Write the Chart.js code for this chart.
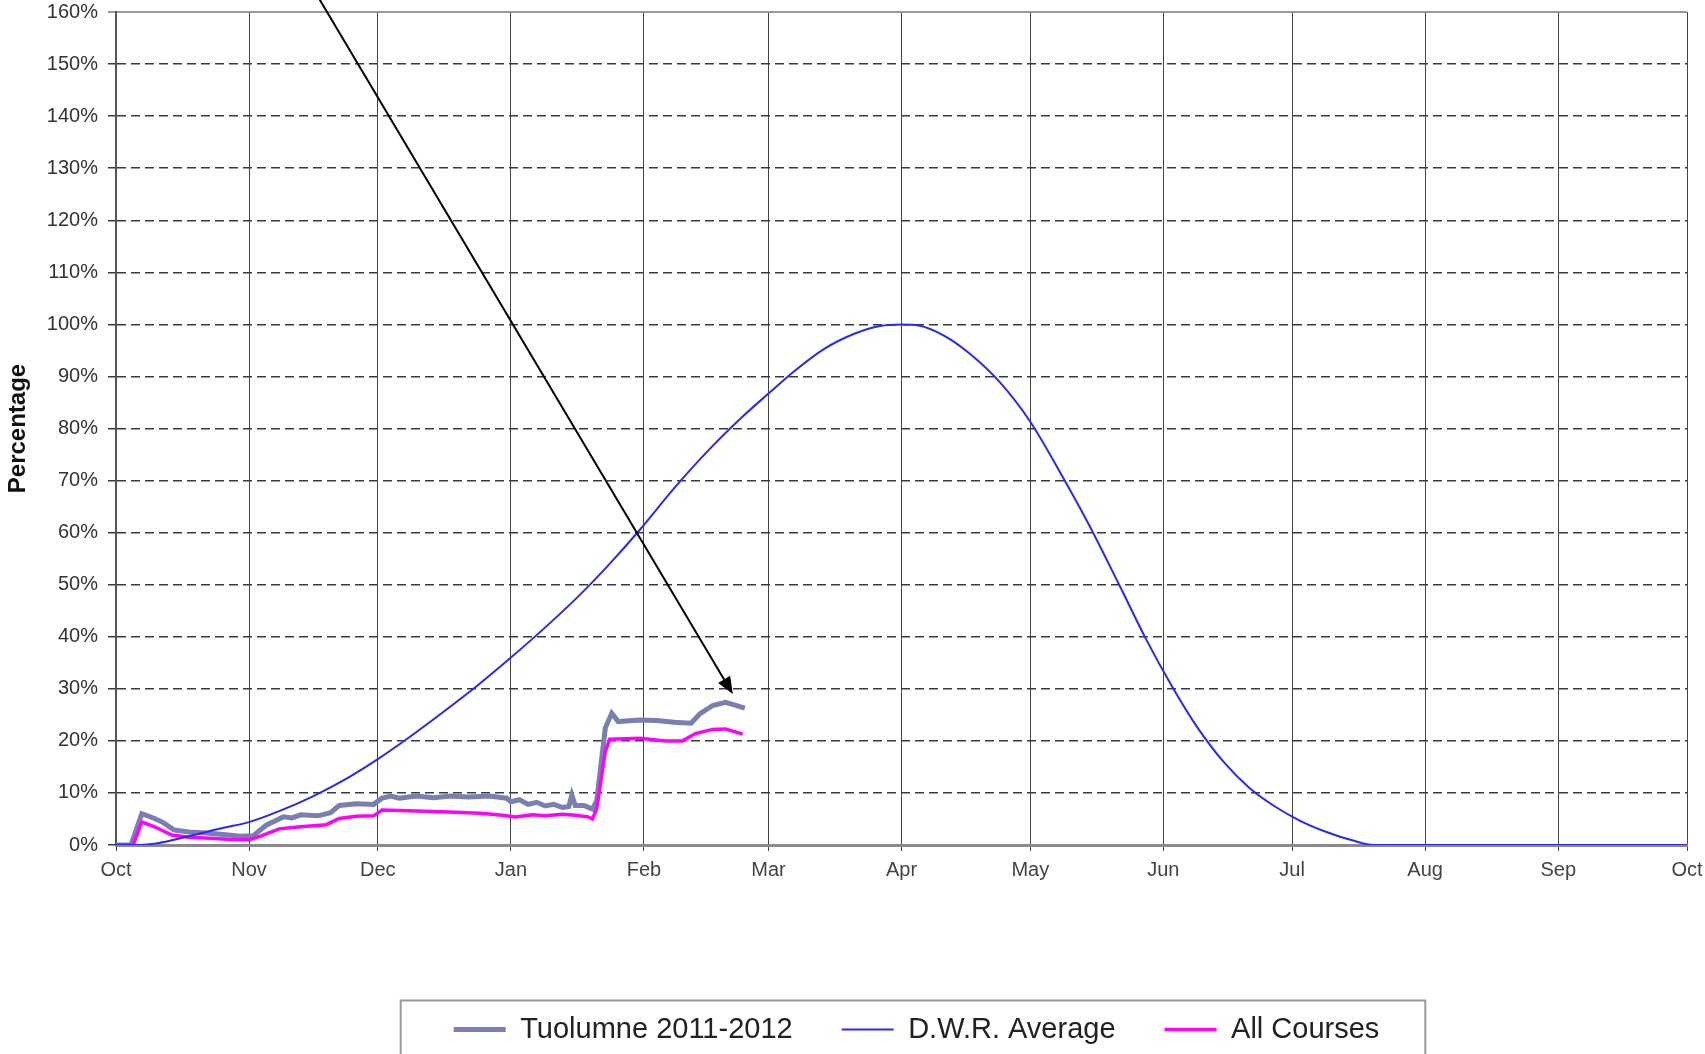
<!DOCTYPE html>
<html>
<head>
<meta charset="utf-8">
<title>Tuolumne 2011-2012 snowpack</title>
<script src="https://cdn.jsdelivr.net/npm/chart.js@4.4.1/dist/chart.umd.min.js"></script>
<style>
    html, body { margin: 0; padding: 0; background: #fff; }
    #wrap { width: 1705px; height: 1054px; }
</style>
</head>
<body>
<div id="wrap"><canvas id="snowChart" width="1705" height="1054"></canvas></div>
<script>
// x values are days counted from Oct 1 (water year 2011-2012, leap Feb)
const monthLabels = ['Oct', 'Nov', 'Dec', 'Jan', 'Feb', 'Mar', 'Apr', 'May', 'Jun', 'Jul', 'Aug', 'Sep', 'Oct'];
const monthStarts = [0, 31, 61, 92, 123, 152, 183, 213, 244, 274, 305, 336, 366];
const percentTicks = [0, 10, 20, 30, 40, 50, 60, 70, 80, 90, 100, 110, 120, 130, 140, 150, 160];

const tuolumneDays = [0, 3.5, 6, 9, 11, 13.5, 17, 21, 25, 29, 32, 35, 37, 39, 41, 43, 47, 50, 52, 56, 60, 62,
    64, 66, 70, 74, 78, 82, 87, 91, 92, 94, 96, 98, 100, 102, 104, 105.5, 106.2, 107, 109, 111, 112, 114,
    115.5, 117, 122, 126, 130, 134, 136, 139, 142, 144, 146.5];
const tuolumneValues = [0, 0, 6.0, 5.1, 4.3, 2.9, 2.5, 2.3, 2.0, 1.7, 1.8, 3.8, 4.6, 5.4, 5.2, 5.8, 5.6, 6.2, 7.6, 7.9, 7.8, 9.0,
    9.4, 9.0, 9.4, 9.1, 9.4, 9.2, 9.4, 9.0, 8.3, 8.7, 7.8, 8.2, 7.5, 7.8, 7.2, 7.4, 9.6, 7.6, 7.6, 6.9, 8.5, 22.5,
    25.3, 23.7, 24.0, 23.9, 23.6, 23.4, 25.2, 26.8, 27.4, 26.9, 26.3];

const dwrDays = [0, 5, 10, 15, 20, 25, 31, 38, 46, 54, 61, 68, 76, 84, 92, 100, 108, 115, 122,
    130, 138, 146, 152, 158, 165, 172, 178, 183, 187, 193, 199, 206, 213, 220, 227, 234, 240, 246,
    252, 258, 264, 270, 276, 282, 288, 293, 305, 336, 366];
const dwrValues = [0, 0, 0.4, 1.3, 2.3, 3.3, 4.4, 6.5, 9.4, 12.9, 16.5, 20.5, 25.4, 30.5, 36.0, 41.8, 48.0, 54.0, 60.5,
    68.5, 75.8, 82.3, 86.7, 91.0, 95.3, 98.2, 99.7, 100, 99.8, 97.8, 94.3, 88.8, 81.3, 71.5, 61.0, 49.5, 39.5, 30.5,
    22.5, 16.0, 11.0, 7.4, 4.6, 2.5, 0.9, 0, 0, 0, 0];

const allCoursesDays = [0, 4, 6, 9, 13, 17, 22, 26, 31, 34, 38, 43, 49, 52, 56, 60, 62, 68, 76, 85,
    90, 93, 97, 100, 104, 107, 110, 111, 112, 114, 115, 122, 128, 132, 135, 139, 142, 146];
const allCoursesValues = [0, 0, 4.4, 3.5, 1.9, 1.5, 1.3, 1.1, 1.0, 1.8, 3.1, 3.5, 3.9, 5.1, 5.5, 5.6, 6.7, 6.6, 6.4, 6.1,
    5.7, 5.4, 5.8, 5.6, 5.9, 5.7, 5.4, 5.0, 7.0, 18.0, 20.3, 20.5, 20.0, 20.0, 21.4, 22.2, 22.3, 21.3];

// annotation arrow, in (day, percent)
const arrowFrom = [47, 163];
const arrowTo = [143.7, 29.0];

const LEGEND_FONT = 29;
const LEGEND_PADDING = 49;
const PLOT_BOTTOM = 845;

function toPoints(days, values) {
    return days.map((d, i) => ({ x: d, y: values[i] }));
}

const arrowPlugin = {
    id: 'arrow',
    afterDatasetsDraw(chart) {
        const xs = chart.scales.x;
        const ys = chart.scales.y;
        const x1 = xs.getPixelForValue(arrowFrom[0]);
        const y1 = ys.getPixelForValue(arrowFrom[1]);
        const x2 = xs.getPixelForValue(arrowTo[0]);
        const y2 = ys.getPixelForValue(arrowTo[1]);
        const ang = Math.atan2(y2 - y1, x2 - x1);
        const head = 17;
        const half = 7;
        const cos = Math.cos(ang), sin = Math.sin(ang);
        const ctx = chart.ctx;
        ctx.save();
        ctx.strokeStyle = '#000';
        ctx.fillStyle = '#000';
        ctx.lineWidth = 2;
        ctx.beginPath();
        ctx.moveTo(x1, y1);
        ctx.lineTo(x2 - head * cos, y2 - head * sin);
        ctx.stroke();
        ctx.beginPath();
        ctx.moveTo(x2, y2);
        ctx.lineTo(x2 - head * cos + half * sin, y2 - head * sin - half * cos);
        ctx.lineTo(x2 - head * cos - half * sin, y2 - head * sin + half * cos);
        ctx.closePath();
        ctx.fill();
        ctx.restore();
    }
};

// grey frame round the legend, like the original spreadsheet legend box
const legendFramePlugin = {
    id: 'legendFrame',
    afterLayout(chart) {
        // the original legend sits a little right of the plot centre
        if (chart.legend) {
            chart.legend.left += 15;
            chart.legend.right += 15;
        }
    },
    afterDraw(chart) {
        const boxes = chart.legend && chart.legend.legendHitBoxes;
        if (!boxes || !boxes.length) return;
        const left = Math.min(...boxes.map(b => b.left)) - 53;
        const right = Math.max(...boxes.map(b => b.left + b.width)) + 46;
        const mid = boxes[0].top + boxes[0].height / 2;
        const ctx = chart.ctx;
        ctx.save();
        ctx.strokeStyle = '#9a9a9a';
        ctx.lineWidth = 2;
        ctx.strokeRect(left, mid - 29, right - left, chart.height);
        ctx.restore();
    }
};

Chart.defaults.font.family = '"Liberation Sans", Arial, sans-serif';

const canvas = document.getElementById('snowChart');
const chart = new Chart(canvas, {
    type: 'line',
    data: {
        datasets: [
            {
                label: 'Tuolumne 2011-2012',
                data: toPoints(tuolumneDays, tuolumneValues),
                borderColor: 'rgb(122, 126, 176)',
                backgroundColor: 'rgb(122, 126, 176)',
                borderWidth: 5,
                pointRadius: 0,
                tension: 0,
                order: 3
            },
            {
                label: 'D.W.R. Average',
                data: toPoints(dwrDays, dwrValues),
                borderColor: 'rgb(40, 40, 255)',
                backgroundColor: 'rgb(40, 40, 255)',
                borderWidth: 2,
                pointRadius: 0,
                cubicInterpolationMode: 'monotone',
                order: 1
            },
            {
                label: 'All Courses',
                data: toPoints(allCoursesDays, allCoursesValues),
                borderColor: 'rgb(255, 0, 255)',
                backgroundColor: 'rgb(255, 0, 255)',
                borderWidth: 3.5,
                pointRadius: 0,
                tension: 0,
                order: 2
            }
        ]
    },
    options: {
        responsive: false,
        animation: false,
        layout: {
            autoPadding: false,
            padding: { top: 12, right: 18, bottom: 0, left: 0 }
        },
        plugins: {
            tooltip: { enabled: false },
            legend: {
                position: 'bottom',
                fullSize: false,
                labels: {
                    usePointStyle: true,
                    pointStyle: 'line',
                    pointStyleWidth: 52,
                    padding: LEGEND_PADDING,
                    color: '#222',
                    font: { size: LEGEND_FONT },
                    sort: (a, b) => a.datasetIndex - b.datasetIndex
                }
            }
        },
        scales: {
            x: {
                type: 'linear',
                min: 0,
                max: 366,
                afterBuildTicks: (axis) => {
                    axis.ticks = monthStarts.map(v => ({ value: v }));
                },
                afterFit: (axis) => {
                    axis.height = 1054 - PLOT_BOTTOM - (LEGEND_FONT + LEGEND_PADDING + 10);
                    // let the last "Oct" run off the edge like the original
                    axis.paddingLeft = 0;
                    axis.paddingRight = 0;
                },
                ticks: {
                    autoSkip: false,
                    maxRotation: 0,
                    padding: 7,
                    color: '#444',
                    font: { size: 20 },
                    callback: (value, index) => monthLabels[index]
                },
                grid: { color: '#444', lineWidth: 1, tickLength: 6 },
                border: { color: '#8a8a8a', width: 3 }
            },
            y: {
                min: 0,
                max: 160,
                afterBuildTicks: (axis) => {
                    axis.ticks = percentTicks.map(v => ({ value: v }));
                },
                afterFit: (axis) => {
                    axis.width = 116;
                    axis.paddingTop = 0;
                    axis.paddingBottom = 0;
                },
                ticks: {
                    padding: 10,
                    color: '#333',
                    font: { size: 20 },
                    callback: (value) => value + '%'
                },
                grid: {
                    color: (ctx) => (ctx.tick && ctx.tick.value === 160) ? '#9a9a9a' : '#3a3a3a',
                    lineWidth: (ctx) => (ctx.tick && ctx.tick.value === 160) ? 2 : 1.5,
                    tickLength: 8
                },
                border: {
                    color: '#555',
                    width: 2,
                    dash: (ctx) => (ctx.tick && ctx.tick.value === 160) ? [] : [9, 5]
                },
                title: {
                    display: true,
                    text: 'Percentage',
                    color: '#111',
                    font: { size: 24, weight: 'bold' },
                    padding: { top: 4, bottom: 0 }
                }
            }
        }
    },
    plugins: [arrowPlugin, legendFramePlugin]
});
</script>
</body>
</html>
